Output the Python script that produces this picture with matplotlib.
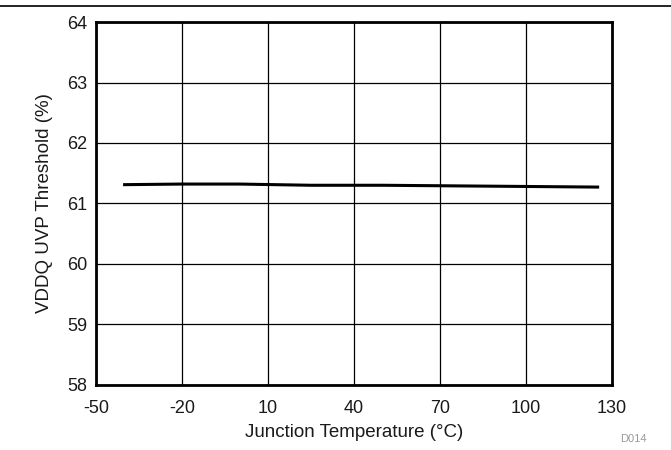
import matplotlib
matplotlib.use("Agg")
import matplotlib.pyplot as plt
from matplotlib.lines import Line2D

plt.rcParams['font.family'] = ['Liberation Sans', 'DejaVu Sans']
plt.rcParams['axes.unicode_minus'] = False

# junction temperature (C) vs VDDQ UVP threshold (%)
temp = [-40, -20, 0, 25, 50, 75, 100, 125]
uvp = [61.31, 61.32, 61.32, 61.30, 61.30, 61.29, 61.28, 61.27]

xticks = [-50, -20, 10, 40, 70, 100, 130]
yticks = [58, 59, 60, 61, 62, 63, 64]

fig = plt.figure(figsize=(6.71, 4.5), dpi=100)
ax = fig.add_axes([0.143, 0.145, 0.769, 0.806])

ax.plot(temp, uvp, color='black', linewidth=2.2)

ax.set_xlim(-50, 130)
ax.set_ylim(58, 64)
ax.set_xticks(xticks)
ax.set_yticks(yticks)
ax.tick_params(length=0, labelsize=13, labelcolor='#1a1a1a')
ax.tick_params(axis='x', pad=11)
ax.tick_params(axis='y', pad=6)
ax.grid(True, color='black', linewidth=0.9)
for s in ax.spines.values():
    s.set_linewidth(2)

ax.set_xlabel('Junction Temperature (°C)', fontsize=13.5, labelpad=5, color='#1a1a1a')
ax.set_ylabel('VDDQ UVP Threshold (%)', fontsize=13.5, labelpad=10, color='#1a1a1a')

# rule across the top and figure id
fig.add_artist(Line2D([0, 1], [0.987, 0.987], color='black', linewidth=1.2))
fig.text(0.924, 0.017, 'D014', fontsize=8, color='#999999')

fig.savefig('out.png', dpi=100)
